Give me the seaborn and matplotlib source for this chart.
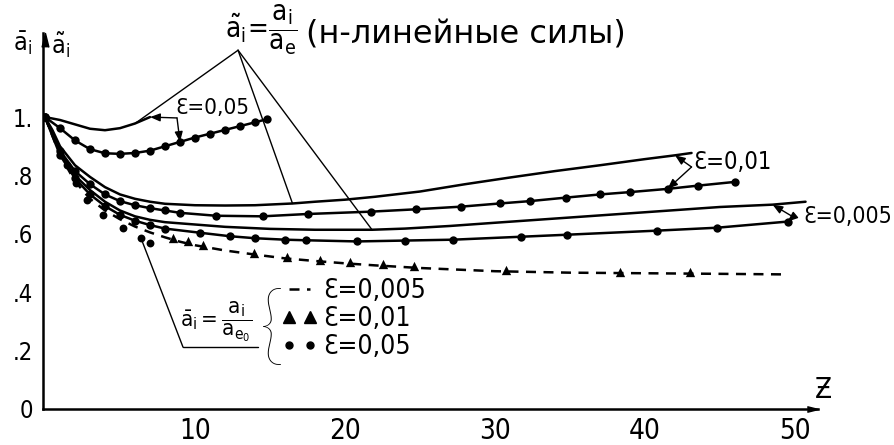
import matplotlib
matplotlib.use("Agg")
import matplotlib.pyplot as plt
import seaborn as sns
from matplotlib.lines import Line2D

# ---------------- data ----------------
# non-linear forces, solid curves (normalised by a_e)
nl05_z = [0, 1, 2, 3, 4, 5, 6, 7]
nl05_v = [1.0, 0.99, 0.975, 0.96, 0.955, 0.962, 0.978, 1.0]

nl01_z = [0, 0.5, 1, 2, 3, 4, 5, 6, 7, 8, 10, 12, 14, 16.5, 18, 20, 22, 25, 28, 31, 34, 37, 40, 42, 43.1]
nl01_v = [1.0, 0.955, 0.90, 0.835, 0.795, 0.76, 0.735, 0.72, 0.71, 0.703, 0.698, 0.697, 0.698, 0.704,
          0.71, 0.717, 0.727, 0.745, 0.77, 0.793, 0.815, 0.835, 0.856, 0.869, 0.877]

nl005_z = [0, 1, 2, 3, 4, 5, 6, 7, 8, 10, 12, 15, 18, 21.8, 24, 27, 30, 35, 40, 45, 48.5, 50.7]
nl005_v = [1.0, 0.88, 0.80, 0.75, 0.71, 0.68, 0.66, 0.648, 0.64, 0.632, 0.624, 0.617, 0.614, 0.614,
           0.618, 0.627, 0.638, 0.656, 0.674, 0.692, 0.70, 0.71]

# linear forces, curves with markers (normalised by a_e)
lin05_z = [0, 1, 2, 3, 4, 5, 6, 7, 8, 9, 10, 11, 12, 13, 14, 14.8]
lin05_v = [1.0, 0.962, 0.92, 0.89, 0.876, 0.874, 0.877, 0.885, 0.9, 0.915, 0.93, 0.943, 0.956,
           0.969, 0.982, 0.993]

lin01_z = [0, 1, 2, 3, 4, 5, 6, 7, 8, 9, 11.4, 14.5, 17.5, 21.7, 24.7, 27.7, 30.3, 32.3, 34.7,
           37, 39, 41.5, 43.5, 46]
lin01_v = [1.0, 0.885, 0.815, 0.77, 0.735, 0.712, 0.698, 0.688, 0.68, 0.672, 0.662, 0.66, 0.668,
           0.676, 0.684, 0.693, 0.704, 0.712, 0.724, 0.735, 0.743, 0.754, 0.765, 0.778]

lin005_z = [0, 1, 2, 3, 4, 5, 6, 7, 8, 10.3, 12.3, 14, 16, 17.4, 20.8, 24, 27.2, 31.7, 34.8, 40.8,
            44.8, 49.5]
lin005_v = [1.0, 0.87, 0.79, 0.735, 0.695, 0.665, 0.645, 0.63, 0.618, 0.604, 0.592, 0.585, 0.58,
            0.578, 0.574, 0.577, 0.58, 0.59, 0.597, 0.611, 0.621, 0.642]

# normalised by a_e0
bar005_z = [0, 1, 2, 3, 4, 5, 6, 7, 8, 9, 10, 12, 14, 16, 18, 20, 22, 25, 30, 35, 40, 45, 49.5]
bar005_v = [1.0, 0.87, 0.78, 0.72, 0.68, 0.65, 0.625, 0.605, 0.588, 0.573, 0.561, 0.543, 0.529,
            0.516, 0.507, 0.499, 0.492, 0.483, 0.472, 0.467, 0.465, 0.463, 0.461]

bar01_z = [8.5, 9.5, 10.5, 13.9, 16.1, 18.3, 20.3, 22.5, 24.6, 30.7, 38.3, 43]
bar01_v = [0.585, 0.575, 0.563, 0.535, 0.52, 0.512, 0.503, 0.495, 0.49, 0.476, 0.471, 0.468]

bar05_z = [1.5, 2.1, 2.8, 3.9, 5.2, 6.4, 7.0]
bar05_v = [0.835, 0.775, 0.717, 0.665, 0.62, 0.585, 0.57]

x_ticks = [10, 20, 30, 40, 50]
y_ticks = [0, 0.2, 0.4, 0.6, 0.8, 1.0]
y_ticklabels = ["0", ".2", ".4", ".6", ".8", "1."]

# ---------------- style ----------------
sns.set_theme(style="white")
plt.rcParams['font.family'] = ['DejaVu Sans']
plt.rcParams['font.stretch'] = 'condensed'
plt.rcParams['mathtext.fontset'] = 'dejavusans'
for key in ("text.color", "axes.labelcolor", "xtick.color", "ytick.color", "axes.edgecolor"):
    plt.rcParams[key] = "black"

W, H = 894, 445
fig = plt.figure(figsize=(W / 100, H / 100), dpi=100)
ax = fig.add_axes([43 / W, (H - 409) / H, (818 - 43) / W, (409 - 33) / H])
ax.set_xlim(-0.133, 51.53)
ax.set_ylim(0, 1.288)

for s in ("top", "right"):
    ax.spines[s].set_visible(False)
for s in ("left", "bottom"):
    ax.spines[s].set_color("black")
    ax.spines[s].set_linewidth(1.8)

# axis arrowheads
ax.plot(1, 0, marker=[(-4, -1), (0, 0), (-4, 1)], ms=16, color="black",
        transform=ax.get_yaxis_transform(), clip_on=False)
ax.plot(0, 1, marker=[(-1, -4), (0, 0), (1, -4)], ms=20, color="black",
        transform=ax.get_xaxis_transform(), clip_on=False)

ax.set_xticks(x_ticks)
ax.set_xticklabels([str(t) for t in x_ticks])
ax.set_yticks(y_ticks)
ax.set_yticklabels(y_ticklabels)
ax.tick_params(axis="both", direction="out", length=4, width=1.2, colors="black")
ax.tick_params(axis="x", labelsize=20, pad=2)
ax.tick_params(axis="y", labelsize=17, pad=3)
ax.grid(False)

lw = 1.8
k = "black"
# solid curves
for zz, vv in ((nl05_z, nl05_v), (nl01_z, nl01_v), (nl005_z, nl005_v)):
    sns.lineplot(x=zz, y=vv, ax=ax, color=k, lw=lw, sort=False, estimator=None)
# curves with markers
for zz, vv in ((lin05_z, lin05_v), (lin01_z, lin01_v), (lin005_z, lin005_v)):
    sns.lineplot(x=zz, y=vv, ax=ax, color=k, lw=lw, sort=False, estimator=None,
                 marker="o", markersize=6, markeredgewidth=0)
# dashed, triangles, dots
sns.lineplot(x=bar005_z, y=bar005_v, ax=ax, color=k, lw=lw, sort=False, estimator=None,
             linestyle=(0, (4, 3)))
sns.scatterplot(x=bar01_z, y=bar01_v, ax=ax, color=k, marker="^", s=45, linewidth=0)
sns.scatterplot(x=bar05_z, y=bar05_v, ax=ax, color=k, marker="o", s=32, linewidth=0)

thin = dict(arrowstyle="-", color=k, lw=1.0, shrinkA=0, shrinkB=0)
head = dict(arrowstyle="-|>,head_length=0.5,head_width=0.2", color=k, lw=1.0,
            shrinkA=0, shrinkB=0)

# label of the non-linear curves with its leader lines
apex = (12.87, 1.229)
ax.text(12.0, 1.30, r"$\mathrm{\tilde{a}_i\!=\!\dfrac{a_i}{a_e}}$", fontsize=20,
        ha="left", va="center")
ax.text(17.4, 1.28, "(н-линейные силы)", fontsize=23, fontstretch="normal",
        ha="left", va="center")
for zz, vv, i in ((nl05_z, nl05_v, 6), (nl01_z, nl01_v, 13), (nl005_z, nl005_v, 13)):
    ax.annotate("", xy=(zz[i], vv[i]), xytext=apex, arrowprops=thin, annotation_clip=False)

# epsilon labels with pointers
ax.text(8.67, 1.031, "Ɛ=0,05", fontsize=16, ha="left", va="center")
vx = (8.8, 0.997)
ax.annotate("", xy=(nl05_z[-1], nl05_v[-1]), xytext=vx, arrowprops=head)
ax.annotate("", xy=(lin05_z[9], lin05_v[9]), xytext=vx, arrowprops=head)

ax.text(43.2, 0.846, "Ɛ=0,01", fontsize=17, ha="left", va="center")
vx = (43.1, 0.829)
ax.annotate("", xy=(nl01_z[-2], nl01_v[-2]), xytext=vx, arrowprops=head)
ax.annotate("", xy=(lin01_z[-3], lin01_v[-3]), xytext=vx, arrowprops=head)

ax.text(50.55, 0.658, "Ɛ=0,005", fontsize=16.5, ha="left", va="center")
vx = (49.87, 0.658)
ax.annotate("", xy=(nl005_z[-2], nl005_v[-2]), xytext=vx, arrowprops=head,
            annotation_clip=False)
ax.annotate("", xy=(lin005_z[-1], lin005_v[-1]), xytext=vx, arrowprops=head,
            annotation_clip=False)

# label of the a_e0 group
ax.text(9.0, 0.298, r"$\mathrm{\bar{a}_i=\dfrac{a_i}{a_{e_0}}}$", fontsize=16,
        ha="left", va="center")
ax.plot([9.2, 14.2], [0.212, 0.212], color=k, lw=1.0)
ax.annotate("", xy=(bar05_z[5], bar05_v[5]), xytext=(9.2, 0.212), arrowprops=thin)
ax.text(15.13, 0.268, "{", fontsize=64, family=["Lato", "DejaVu Sans"], fontweight="light",
        fontstretch="normal", ha="center", va="center")

handles = [Line2D([], [], color=k, lw=lw, linestyle=(0, (4, 3))),
           Line2D([], [], color=k, ls="", marker="^", ms=8),
           Line2D([], [], color=k, ls="", marker="o", ms=5)]
ax.legend(handles, ["Ɛ=0,005", "Ɛ=0,01", "Ɛ=0,05"], numpoints=2, frameon=False,
          handlelength=1.4, handletextpad=0.2, labelspacing=0.08, fontsize=19,
          loc="upper left", bbox_to_anchor=(281 / W, 1 - 278 / H),
          bbox_transform=fig.transFigure, borderpad=0, borderaxespad=0)

# axis names
fig.text(22 / W, 1 - 43 / H, r"$\mathrm{\bar{a}_i}$", fontsize=18, ha="center", va="center")
fig.text(60 / W, 1 - 45 / H, r"$\mathrm{\tilde{a}_i}$", fontsize=18, ha="center", va="center")
fig.text(823 / W, 1 - 390 / H, "Ƶ", fontsize=20, ha="center", va="center")

fig.savefig("out.png", dpi=100)
